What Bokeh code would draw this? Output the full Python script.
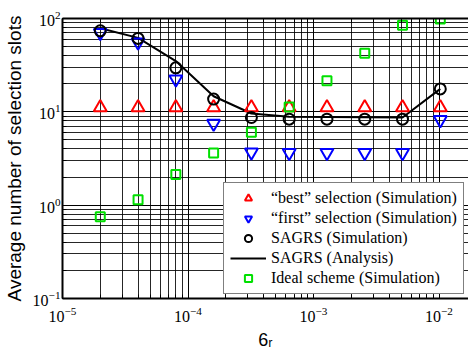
from bokeh.plotting import figure
from bokeh.models import LogAxis, CustomJSTickFormatter, Range1d, Spacer
from bokeh.layouts import column
from bokeh.embed import file_html
from bokeh.resources import INLINE

# ---- data ----
x_vals = [2e-5, 4e-5, 8e-5, 1.6e-4, 3.2e-4, 6.4e-4, 1.28e-3, 2.56e-3, 5.12e-3, 1.024e-2]
best_sim = [11.1, 11.1, 11.1, 11.1, 11.1, 11.1, 11.1, 11.1, 11.1, 11.1]
first_sim = [70.3, 55.5, 22.4, 7.5, 3.7, 3.65, 3.65, 3.65, 3.65, 8.2]
sagrs_sim = [73.8, 61.2, 29.6, 13.7, 8.7, 8.35, 8.35, 8.35, 8.35, 17.6]
sagrs_ana = [78.5, 62.0, 35.0, 14.7, 9.6, 8.85, 8.8, 8.75, 8.7, 17.6]
ideal_sim = [0.75, 1.14, 2.13, 3.63, 6.05, 11.3, 21.5, 42.3, 84.4, 98.6]

labels = ["\u201cbest\u201d selection (Simulation)",
          "\u201cfirst\u201d selection (Simulation)",
          "SAGRS (Simulation)",
          "SAGRS (Analysis)",
          "Ideal scheme (Simulation)"]
y_label_text = "Average number of selection slots"
x_label_text = "6\u1d63"

p = figure(frame_width=406, frame_height=280, x_axis_type="log", y_axis_type="log",
           x_range=Range1d(1e-5, 0.01718), y_range=Range1d(0.1, 100),
           output_backend="svg", toolbar_location=None,
           min_border_left=54, min_border_right=0, min_border_top=11, min_border_bottom=47)
p.outline_line_color = None
p.background_fill_color = "white"

# grid
for g in (p.xgrid[0], p.ygrid[0]):
    g.grid_line_color = "black"
    g.grid_line_width = 1
    g.minor_grid_line_color = "black"
    g.minor_grid_line_alpha = 0.85

# axes
for ax in (p.xaxis[0], p.yaxis[0]):
    ax.axis_line_width = 2
    ax.axis_line_color = "black"
    ax.major_tick_in = 7
    ax.major_tick_out = 0
    ax.minor_tick_in = 4
    ax.minor_tick_out = 0
    ax.major_tick_line_color = "black"
    ax.minor_tick_line_color = "black"
    ax.major_label_text_font = "Liberation Serif"
    ax.major_label_text_font_size = "16px"
    ax.major_label_text_color = "black"
    ax.axis_label_text_font = "Liberation Sans"
    ax.axis_label_text_font_style = "normal"
    ax.axis_label_text_color = "black"

p.xaxis[0].major_label_standoff = 8
p.xaxis[0].axis_label = x_label_text
p.xaxis[0].axis_label_text_font_size = "18px"
p.xaxis[0].axis_label_standoff = 5
p.yaxis[0].major_label_standoff = 2
p.yaxis[0].axis_label = y_label_text
p.yaxis[0].axis_label_text_font_size = "19px"
p.yaxis[0].axis_label_standoff = 5

top = LogAxis(ticker=p.xaxis[0].ticker, formatter=CustomJSTickFormatter(code="return ''"))
top.axis_line_width = 2
top.major_tick_in = 7
top.major_tick_out = 0
top.minor_tick_in = 4
top.minor_tick_out = 0
top.major_label_text_font_size = "0px"
p.add_layout(top, "above")

# glyphs
p.line(x_vals, sagrs_ana, line_color="black", line_width=2, legend_label=labels[3])
p.scatter(x_vals, best_sim, marker="triangle", size=13, fill_color=None,
          line_color="#ff0000", line_width=2, legend_label=labels[0])
p.scatter(x_vals, first_sim, marker="inverted_triangle", size=13, fill_color=None,
          line_color="#0000ff", line_width=2, legend_label=labels[1])
p.scatter(x_vals, sagrs_sim, marker="circle", size=11, fill_color=None,
          line_color="black", line_width=2, legend_label=labels[2])
p.scatter(x_vals, ideal_sim, marker="square", size=9, fill_color=None,
          line_color="#00e000", line_width=2, legend_label=labels[4])

# legend
leg = p.legend[0]
items = {it.label.value: it for it in leg.items}
leg.items = [items[l] for l in labels]
leg.location = (161, 4)
leg.label_text_font = "Liberation Serif"
leg.label_text_font_size = "16px"
leg.label_text_color = "black"
leg.border_line_color = "black"
leg.border_line_width = 1.5
leg.background_fill_alpha = 1
leg.padding = 6
leg.spacing = 2
leg.glyph_width = 36
leg.glyph_height = 18
leg.label_height = 18
leg.label_standoff = 5
leg.margin = 0

layout = column(Spacer(height=7), p, spacing=0)
open("out.html", "w").write(file_html(layout, INLINE))
